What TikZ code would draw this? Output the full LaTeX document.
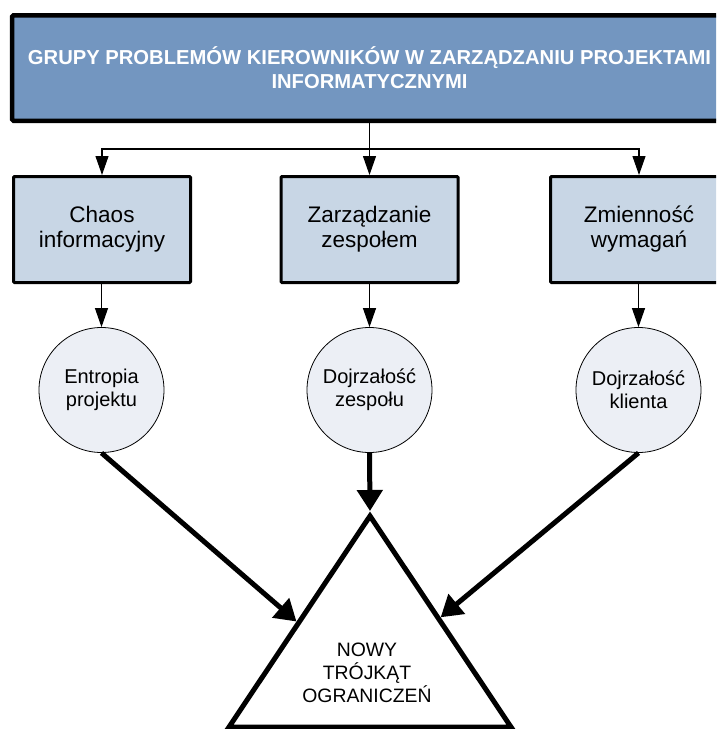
\documentclass[tikz,border=0pt]{standalone}
\usepackage{fontspec}
\setmainfont{Liberation Sans}
\usetikzlibrary{arrows.meta,calc}
\definecolor{titlefill}{RGB}{115,150,192}
\definecolor{groupfill}{RGB}{200,214,229}
\definecolor{factorfill}{RGB}{236,239,245}
\begin{document}
\begin{tikzpicture}[x=1pt,y=-1pt,
  titlebox/.style={draw=black, line width=4.5pt, fill=titlefill, rounded corners=1.5pt,
    minimum width=715pt, minimum height=105.5pt, inner sep=0pt, align=center,
    text=white, font=\fontsize{20.2}{24}\selectfont\bfseries},
  groupbox/.style={draw=black, line width=3pt, fill=groupfill, rounded corners=1pt,
    minimum width=177pt, minimum height=106pt, inner sep=0pt, align=center,
    font=\fontsize{22.5}{25}\selectfont},
  factor/.style={circle, draw=black, line width=0.8pt, fill=factorfill,
    minimum size=125pt, inner sep=0pt, align=center, font=\fontsize{20}{23}\selectfont},
  thinarrow/.style={line width=1.1pt, -{Triangle[length=19pt,width=13pt]}},
  thickarrow/.style={line width=5pt, -{Triangle[length=21pt,width=25pt]}},
  outline/.style={line width=5pt, line join=miter},
  trilabel/.style={align=center, font=\fontsize{19.4}{23.3}\selectfont},
]
\clip (0,0) rectangle (716,729);

% title bar
\node[titlebox] (top) at (369.5,68)
  {GRUPY PROBLEMÓW KIEROWNIKÓW W ZARZĄDZANIU PROJEKTAMI\\INFORMATYCZNYMI};

% problem groups
\node[groupbox] (g1) at (102,229.5) {Chaos\\informacyjny};
\node[groupbox] (g2) at (369.5,229.5) {Zarządzanie\\zespołem};
\node[groupbox] (g3) at (639,229.5) {Zmienność\\wymagań};

% factors
\node[factor] (f1) at (101.5,390) {Entropia\\projektu};
\node[factor] (f2) at (369.5,390) {Dojrzałość\\zespołu};
\node[factor] (f3) at (638.5,390) {Dojrzałość\\klienta};

% triangle of constraints
\coordinate (apex) at (370,516);
\coordinate (bl) at (229,727);
\coordinate (br) at (511,727);
\draw[outline] (apex) -- (bl) -- (br) -- cycle;
\node[trilabel] (tri) at (367,673) {NOWY\\TRÓJKĄT\\OGRANICZEŃ};
\coordinate (tipL) at ($(apex)!0.5!(bl)+(-3,0)$);
\coordinate (tipR) at ($(apex)!0.48!(br)+(3,0)$);
\coordinate (tipT) at (370,511);

% distribution bus
\coordinate (bus) at (369.5,149);
\draw[line width=1.1pt] (top.south) -- (bus);
\draw[thinarrow] (bus) -| (g1.north);
\draw[thinarrow] (bus) -- (g2.north);
\draw[thinarrow] (bus) -| (g3.north);

% groups to factors
\draw[thinarrow] (g1.south -| f1) -- (f1.north);
\draw[thinarrow] (g2.south) -- (f2.north);
\draw[thinarrow] (g3.south -| f3) -- (f3.north);

% factors to triangle
\draw[thickarrow] (f1.south) -- (tipL);
\draw[thickarrow] (f2.south) -- (tipT);
\draw[thickarrow] (f3.south) -- (tipR);
\end{tikzpicture}
\end{document}
